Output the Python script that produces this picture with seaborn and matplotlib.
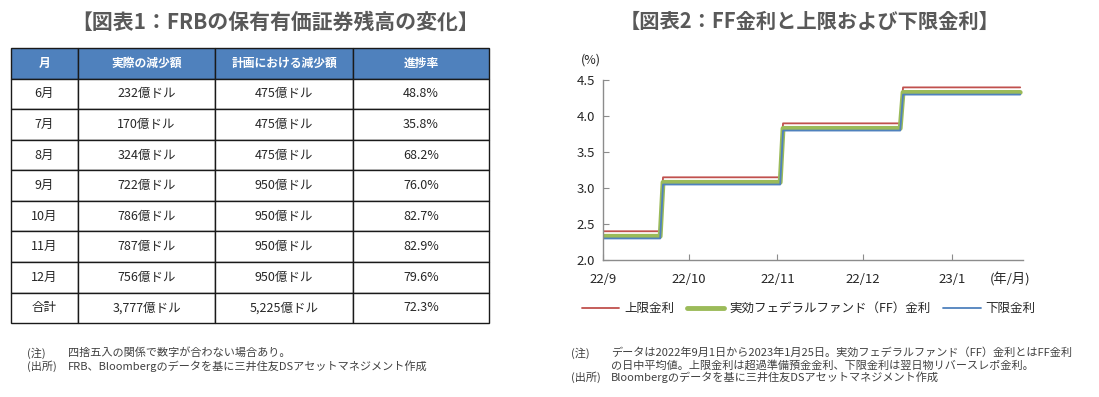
import pandas as pd
import numpy as np
import matplotlib.pyplot as plt
import seaborn as sns

# Table data (chart 1)
col_labels = ['月', '実際の減少額', '計画における減少額', '進捗率']
months = ['6月', '7月', '8月', '9月', '10月', '11月', '12月', '合計']
actual = ['232億ドル', '170億ドル', '324億ドル', '722億ドル', '786億ドル', '787億ドル', '756億ドル', '3,777億ドル']
planned = ['475億ドル', '475億ドル', '475億ドル', '950億ドル', '950億ドル', '950億ドル', '950億ドル', '5,225億ドル']
progress = ['48.8%', '35.8%', '68.2%', '76.0%', '82.7%', '82.9%', '79.6%', '72.3%']

# Rate data (chart 2)
dates = ['2022-09-01', '2022-09-21', '2022-09-22', '2022-11-02', '2022-11-03',
         '2022-12-14', '2022-12-15', '2023-01-25']
upper = [2.40, 2.40, 3.15, 3.15, 3.90, 3.90, 4.40, 4.40]
effr = [2.33, 2.33, 3.08, 3.08, 3.83, 3.83, 4.33, 4.33]
lower = [2.30, 2.30, 3.05, 3.05, 3.80, 3.80, 4.30, 4.30]
xtick_dates = ['2022-09-01', '2022-10-01', '2022-11-01', '2022-12-01', '2023-01-01']
xtick_labels = ['22/9', '22/10', '22/11', '22/12', '23/1']

sns.set_style('white')
plt.rcParams['font.family'] = ['Noto Sans CJK JP', 'DejaVu Sans']

fig = plt.figure(figsize=(10.99, 3.97), dpi=100)
title_color = '#595959'
text_color = '#262626'

# ---- left: table ----
fig.text(0.25, 0.945, '【図表1：FRBの保有有価証券残高の変化】', ha='center', va='center',
         fontsize=15, fontweight='bold', color=title_color)

ax_t = fig.add_axes([0.010, 0.186, 0.435, 0.693])
ax_t.axis('off')
cell_text = [list(r) for r in zip(months, actual, planned, progress)]
widths = np.array([67, 137, 138, 136]) / 478
tbl = ax_t.table(cellText=cell_text, colLabels=col_labels, colWidths=list(widths),
                 cellLoc='center', bbox=[0, 0, 1, 1])
tbl.auto_set_font_size(False)
for (r, c), cell in tbl.get_celld().items():
    cell.set_edgecolor('#1a1a1a')
    cell.set_linewidth(1.0)
    cell.get_text().set_fontsize(9)
    if r == 0:
        cell.set_facecolor('#4F81BD')
        cell.get_text().set_color('white')
        cell.get_text().set_fontweight('bold')
        cell.get_text().set_fontsize(8.5)
    else:
        cell.get_text().set_color(text_color)

fig.text(0.025, 0.111, '(注)', fontsize=8, color='#404040', va='center')
fig.text(0.062, 0.111, '四捨五入の関係で数字が合わない場合あり。', fontsize=8, color='#404040', va='center')
fig.text(0.025, 0.078, '(出所)', fontsize=8, color='#404040', va='center')
fig.text(0.062, 0.078, 'FRB、Bloombergのデータを基に三井住友DSアセットマネジメント作成',
         fontsize=8, color='#404040', va='center')

# ---- right: line chart ----
fig.text(0.737, 0.945, '【図表2：FF金利と上限および下限金利】', ha='center', va='center',
         fontsize=14.6, fontweight='bold', color=title_color)

df = pd.DataFrame({'date': pd.to_datetime(dates), '上限金利': upper,
                   '実効フェデラルファンド（FF）金利': effr, '下限金利': lower})

ax = fig.add_axes([0.5487, 0.345, 0.3822, 0.453])
sns.lineplot(data=df, x='date', y='上限金利', ax=ax, color='#C0504D', linewidth=1.3, label='上限金利')
sns.lineplot(data=df, x='date', y='実効フェデラルファンド（FF）金利', ax=ax, color='#9BBB59',
             linewidth=3.5, label='実効フェデラルファンド（FF）金利')
sns.lineplot(data=df, x='date', y='下限金利', ax=ax, color='#4F81BD', linewidth=1.3, label='下限金利')

ax.set_xlim(pd.Timestamp('2022-09-01'), pd.Timestamp('2023-01-26'))
ax.set_ylim(2.0, 4.5)
ax.set_yticks([2.0, 2.5, 3.0, 3.5, 4.0, 4.5])
ax.set_yticklabels([f'{v:.1f}' for v in [2.0, 2.5, 3.0, 3.5, 4.0, 4.5]])
ax.set_xticks(pd.to_datetime(xtick_dates))
ax.set_xticklabels(xtick_labels)
ax.set_xlabel('')
ax.set_ylabel('')
for s in ['top', 'right']:
    ax.spines[s].set_visible(False)
for s in ['left', 'bottom']:
    ax.spines[s].set_color('#8c8c8c')
    ax.spines[s].set_linewidth(1.0)
ax.tick_params(axis='both', direction='in', length=4, color='#8c8c8c', labelsize=9.5,
               labelcolor=text_color, left=True, bottom=True)
ax.tick_params(axis='x', pad=9)
ax.tick_params(axis='y', pad=6)
ax.text(-0.03, 1.09, '(%)', transform=ax.transAxes, fontsize=9, color=text_color, ha='center')
ax.text(0.97, -0.11, '(年/月)', transform=ax.transAxes, fontsize=9.5, color=text_color,
        ha='center', va='center')

ax.legend(loc='center', bbox_to_anchor=(0.49, -0.27), ncol=3, frameon=False, fontsize=9,
          handlelength=3.0, columnspacing=1.0, handletextpad=0.4, labelcolor=text_color)

fig.text(0.520, 0.111, '(注)', fontsize=8, color='#404040', va='center')
fig.text(0.556, 0.111, 'データは2022年9月1日から2023年1月25日。実効フェデラルファンド（FF）金利とはFF金利',
         fontsize=8, color='#404040', va='center')
fig.text(0.556, 0.080, 'の日中平均値。上限金利は超過準備預金金利、下限金利は翌日物リバースレポ金利。',
         fontsize=8, color='#404040', va='center')
fig.text(0.520, 0.050, '(出所)', fontsize=8, color='#404040', va='center')
fig.text(0.556, 0.050, 'Bloombergのデータを基に三井住友DSアセットマネジメント作成',
         fontsize=8, color='#404040', va='center')

fig.savefig('out.png', dpi=100)
plt.close(fig)
